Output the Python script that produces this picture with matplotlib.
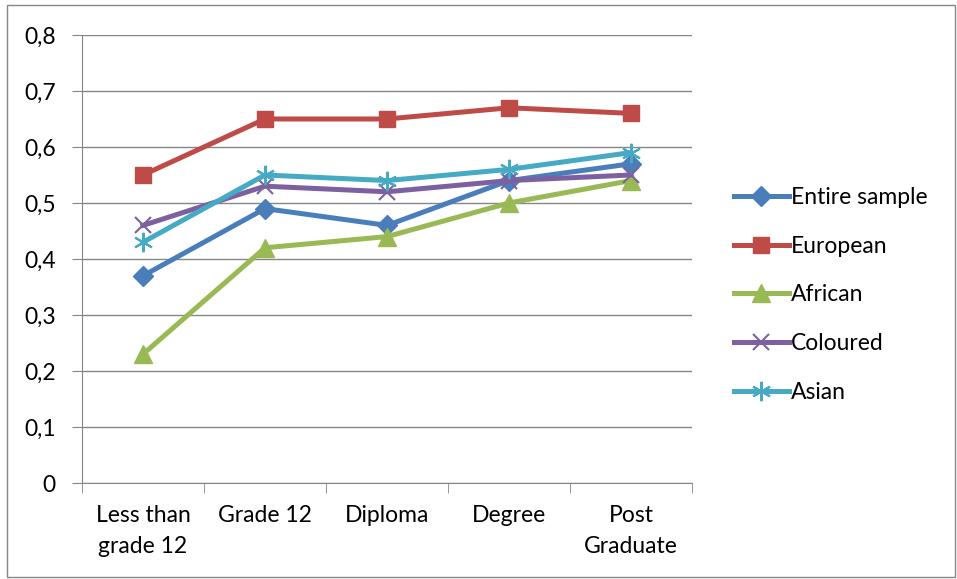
import numpy as np
import matplotlib.pyplot as plt
from matplotlib.ticker import FuncFormatter

plt.rcParams['font.family'] = ['Lato', 'DejaVu Sans']

categories = ['Less than\ngrade 12', 'Grade 12', 'Diploma', 'Degree', 'Post\nGraduate']
entire = [0.37, 0.49, 0.46, 0.54, 0.57]
european = [0.55, 0.65, 0.65, 0.67, 0.66]
african = [0.23, 0.42, 0.44, 0.50, 0.54]
coloured = [0.46, 0.53, 0.52, 0.54, 0.55]
asian = [0.43, 0.55, 0.54, 0.56, 0.59]

fig = plt.figure(figsize=(9.57, 5.79), dpi=100)
ax = fig.add_axes([0.0857, 0.1658, 0.6374, 0.7738])

x = np.arange(len(categories))
ax.plot(x, entire, color='#4A7EBB', lw=3.6, marker='D', ms=10, label='Entire sample')
ax.plot(x, european, color='#BE4B48', lw=3.6, marker='s', ms=12, label='European')
ax.plot(x, african, color='#98B954', lw=3.6, marker='^', ms=13, label='African')
ax.plot(x, coloured, color='#7D60A0', lw=3.6, marker='x', ms=12, mew=1.5, label='Coloured')
ax.plot(x, asian, color='#46AAC5', lw=3.6, marker=(6, 2, 0), ms=14, mew=1.5, label='Asian')

ax.set_xlim(-0.5, len(categories) - 0.5)
ax.set_ylim(0, 0.8)
ax.set_yticks(np.arange(0, 0.81, 0.1))
ax.yaxis.set_major_formatter(FuncFormatter(lambda v, p: '0' if v == 0 else f'{v:.1f}'.replace('.', ',')))
ax.set_xticks(x)
ax.set_xticklabels(categories, fontsize=16.5, linespacing=1.55)
ax.set_xticks(np.arange(-0.5, len(categories), 1), minor=True)
ax.tick_params(axis='x', which='major', length=0, pad=16)
ax.tick_params(axis='x', which='minor', length=7, color='#868686')
ax.tick_params(axis='y', length=7, color='#868686', labelsize=16.5, pad=12)
ax.grid(axis='y', color='#868686', lw=1)
ax.set_axisbelow(True)
for s in ['top', 'right']:
    ax.spines[s].set_visible(False)
for s in ['left', 'bottom']:
    ax.spines[s].set_color('#868686')

ax.legend(loc='upper left', bbox_to_anchor=(0.745, 0.713), bbox_transform=fig.transFigure,
          frameon=False, fontsize=16.5, handlelength=2.4, handletextpad=0.1, labelspacing=1.21)

fig.add_artist(plt.Rectangle((0.007, 0.003), 0.991, 0.988, transform=fig.transFigure,
                             fill=False, edgecolor='#868686', lw=1))

fig.savefig('out.png', dpi=100)
